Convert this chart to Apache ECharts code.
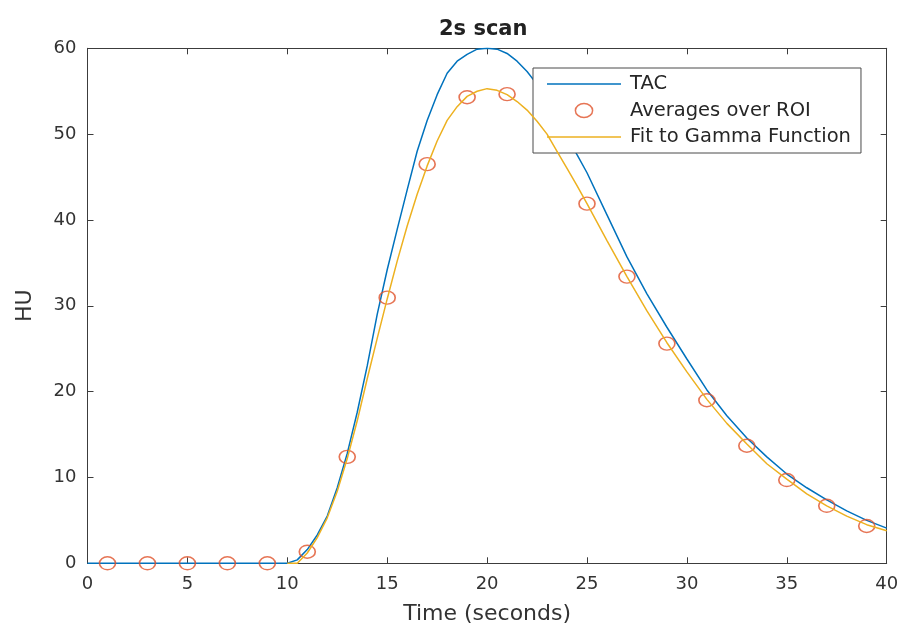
<!DOCTYPE html>
<html>
<head>
<meta charset="utf-8">
<script src="https://cdn.jsdelivr.net/npm/echarts@6/dist/echarts.min.js"></script>
<style>
html,body{margin:0;padding:0;background:#fff;}
#chart{width:903px;height:630px;}
</style>
</head>
<body>
<div id="chart"></div>
<script>
// ---- Data ----
const titleText = '2s scan';
const xAxisName = 'Time (seconds)';
const yAxisName = 'HU';
const seriesNames = ['TAC', 'Averages over ROI', 'Fit to Gamma Function'];

const tacTime = [0, 10, 10.5, 11, 11.5, 12, 12.5, 13, 13.5, 14, 14.5, 15, 15.5, 16, 16.5, 17, 17.5, 18, 18.5, 19, 19.5, 20, 20.5, 21, 21.5, 22, 22.5, 23, 23.5, 24, 24.5, 25, 26, 27, 28, 29, 30, 31, 32, 33, 34, 35, 36, 37, 38, 39, 40];
const tacValues = [0, 0, 0.4, 1.6, 3.3, 5.5, 8.8, 12.8, 17.6, 23.0, 29.0, 34.2, 38.9, 43.5, 48.0, 51.6, 54.6, 57.1, 58.5, 59.3, 59.9, 60.0, 59.9, 59.4, 58.5, 57.3, 55.8, 54.0, 52.0, 49.8, 47.6, 45.5, 40.6, 35.7, 31.4, 27.5, 23.8, 20.2, 17.2, 14.6, 12.4, 10.4, 8.8, 7.4, 6.1, 5.0, 4.1];

const roiTime = [1, 3, 5, 7, 9, 11, 13, 15, 17, 19, 21, 23, 25, 27, 29, 31, 33, 35, 37, 39];
const roiValues = [0, 0, 0, 0, 0, 1.35, 12.4, 30.95, 46.5, 54.3, 54.66, 49.6, 41.9, 33.4, 25.6, 19.0, 13.7, 9.7, 6.7, 4.35];

const fitTime = [10, 10.5, 11, 11.5, 12, 12.5, 13, 13.5, 14, 14.5, 15, 15.5, 16, 16.5, 17, 17.5, 18, 18.5, 19, 19.5, 20, 20.5, 21, 21.5, 22, 22.5, 23, 23.5, 24, 24.5, 25, 26, 27, 28, 29, 30, 31, 32, 33, 34, 35, 36, 37, 38, 39, 40];
const fitValues = [0, 0, 1.2, 3.0, 5.3, 8.4, 12.2, 16.6, 21.5, 26.2, 30.8, 35.2, 39.3, 43.0, 46.3, 49.2, 51.6, 53.2, 54.4, 55.0, 55.3, 55.1, 54.6, 53.8, 52.8, 51.5, 50.0, 48.0, 46.0, 44.0, 41.9, 37.6, 33.4, 29.4, 25.7, 22.3, 19.1, 16.3, 13.9, 11.6, 9.8, 8.1, 6.7, 5.5, 4.5, 3.8];

// ---- Styles ----
const FONT = 'DejaVu Sans';
const AXIS_COLOR = '#3c3c3c';
const TEXT_COLOR = '#333333';
const BLUE = '#0072BD';
const ORANGE = '#EDB120';
const RED = '#E0532A';

const zip = (xs, ys) => xs.map((x, i) => [x, ys[i]]);

const baseAxis = {
  type: 'value',
  axisLine: { show: true, onZero: false, lineStyle: { color: AXIS_COLOR, width: 1 } },
  axisTick: { show: true, inside: true, length: 6, lineStyle: { color: AXIS_COLOR, width: 1 } },
  splitLine: { show: false },
  axisLabel: { fontFamily: FONT, fontSize: 18, color: TEXT_COLOR },
  nameMoveOverlap: false
};

const chart = echarts.init(document.getElementById('chart'), null, { renderer: 'canvas' });
chart.setOption({
  backgroundColor: '#ffffff',
  animation: false,
  title: {
    text: titleText,
    left: 439,
    top: 19,
    padding: 0,
    textStyle: { fontFamily: FONT, fontSize: 21, fontWeight: 'bold', color: '#222' }
  },
  grid: { left: 87.5, right: 16.3, top: 48.3, bottom: 66.7, containLabel: false, outerBoundsMode: 'none' },
  legend: {
    orient: 'vertical',
    left: 533,
    top: 68,
    padding: [6, 10, 6, 14],
    itemWidth: 74,
    itemHeight: 14,
    itemGap: 6.5,
    symbolKeepAspect: true,
    selectedMode: false,
    backgroundColor: '#ffffff',
    borderColor: '#4a4a4a',
    borderWidth: 1,
    borderRadius: 0,
    textStyle: { fontFamily: FONT, fontSize: 19.5, color: '#262626', padding: [0, 0, 0, 4] },
    data: [
      { name: seriesNames[0], icon: 'path://M0,0 L74,0 L74,1.5 L0,1.5 Z', itemStyle: { color: BLUE, borderWidth: 0 } },
      { name: seriesNames[1], icon: 'path://M0,6.5 A8,6.5 0 1,1 16,6.5 A8,6.5 0 1,1 0,6.5 Z', itemStyle: { color: 'rgba(255,255,255,0)', borderColor: RED, borderWidth: 1.5 } },
      { name: seriesNames[2], icon: 'path://M0,0 L74,0 L74,1.5 L0,1.5 Z', itemStyle: { color: ORANGE, borderWidth: 0 } }
    ]
  },
  xAxis: [
    Object.assign({}, baseAxis, {
      min: 0, max: 40, interval: 5, position: 'bottom',
      axisLabel: Object.assign({}, baseAxis.axisLabel, { margin: 12 }),
      name: xAxisName, nameLocation: 'middle', nameGap: 40,
      nameTextStyle: { fontFamily: FONT, fontSize: 22, color: TEXT_COLOR }
    }),
    Object.assign({}, baseAxis, {
      min: 0, max: 40, interval: 5, position: 'top',
      axisLabel: { show: false }
    })
  ],
  yAxis: [
    Object.assign({}, baseAxis, {
      min: 0, max: 60, interval: 10, position: 'left',
      axisLabel: Object.assign({}, baseAxis.axisLabel, { margin: 11 }),
      name: yAxisName, nameLocation: 'middle', nameGap: 51,
      nameTextStyle: { fontFamily: FONT, fontSize: 22, color: TEXT_COLOR }
    }),
    Object.assign({}, baseAxis, {
      min: 0, max: 60, interval: 10, position: 'right',
      axisLabel: { show: false }
    })
  ],
  series: [
    {
      name: seriesNames[0], type: 'line', xAxisIndex: 0, yAxisIndex: 0,
      data: zip(tacTime, tacValues), showSymbol: false, symbol: 'none',
      lineStyle: { color: BLUE, width: 1.5 }, itemStyle: { color: BLUE },
      clip: true, z: 2
    },
    {
      name: seriesNames[1], type: 'scatter', xAxisIndex: 0, yAxisIndex: 0,
      data: zip(roiTime, roiValues), symbol: 'circle', symbolSize: [16, 13],
      itemStyle: { color: 'rgba(255,255,255,0)', borderColor: RED, borderWidth: 1.5 },
      z: 3
    },
    {
      name: seriesNames[2], type: 'line', xAxisIndex: 0, yAxisIndex: 0,
      data: zip(fitTime, fitValues), showSymbol: false, symbol: 'none',
      lineStyle: { color: ORANGE, width: 1.5 }, itemStyle: { color: ORANGE },
      clip: true, z: 4
    }
  ]
});
</script>
</body>
</html>
